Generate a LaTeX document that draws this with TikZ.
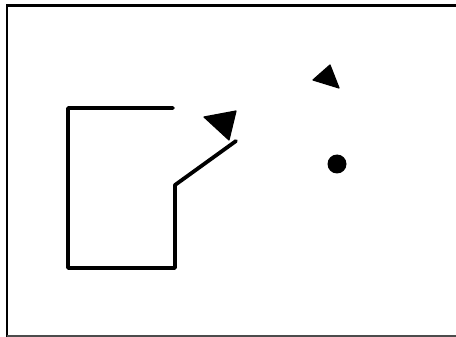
\documentclass[tikz,border=0pt]{standalone}
\begin{document}
\begin{tikzpicture}[x=1pt,y=-1pt,
  frame/.style={line width=2.6pt,black},
  wall/.style={line width=3.8pt,black,line join=round,line cap=round},
  marker/.style={fill=black,draw=black,line width=1.2pt,line join=round}]
\useasboundingbox (0,0) rectangle (456,337);
\draw[frame] (470,5.5) -- (7,5.5) -- (7,340);
\draw[frame,black!70,line width=1.8pt] (7,336) -- (470,336);
\coordinate (p0) at (173,108);
\coordinate (p1) at (68,108);
\coordinate (p2) at (68,268);
\coordinate (p3) at (175,268);
\coordinate (p4) at (175,185);
\coordinate (p5) at (236,141);
\draw[wall] (p0) -- (p1) -- (p2) -- (p3) -- (p4) -- (p5);
\coordinate (a1) at (204,117);
\coordinate (a2) at (236,111);
\coordinate (a3) at (229,140);
\fill[marker] (a1) -- (a2) -- (a3) -- cycle;
\coordinate (b1) at (313,80);
\coordinate (b2) at (330,65);
\coordinate (b3) at (339,88);
\fill[marker] (b1) -- (b2) -- (b3) -- cycle;
\node[circle,fill=black,inner sep=0pt,minimum size=19pt] (dot) at (337,164) {};
\end{tikzpicture}
\end{document}
